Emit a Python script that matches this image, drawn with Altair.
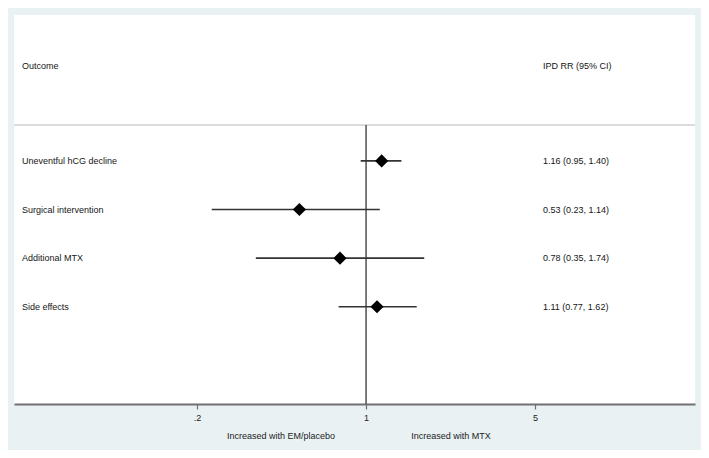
import altair as alt
import pandas as pd

outcomes = ["Uneventful hCG decline", "Surgical intervention", "Additional MTX", "Side effects"]
rr = [1.16, 0.53, 0.78, 1.11]
lo = [0.95, 0.23, 0.35, 0.77]
hi = [1.40, 1.14, 1.74, 1.62]
labels = ["1.16 (0.95, 1.40)", "0.53 (0.23, 1.14)", "0.78 (0.35, 1.74)", "1.11 (0.77, 1.62)"]
tick_values = [0.2, 1, 5]
header_left = "Outcome"
header_right = "IPD RR (95% CI)"
dir_left = "Increased with EM/placebo"
dir_right = "Increased with MTX"

df = pd.DataFrame({
    "outcome": outcomes,
    "row": list(range(1, len(outcomes) + 1)),
    "rr": rr,
    "lo": lo,
    "hi": hi,
    "label": labels,
})

W, H = 681, 389
FONT = "Liberation Sans"
FS = 9

xscale = alt.Scale(type="log", domain=[0.03499, 22.93], nice=False, zero=False)
yscale = alt.Scale(domain=[-2, 6], reverse=True, nice=False, zero=False)

base = alt.Chart(df)

ci = base.mark_rule(color="#333333", strokeWidth=1.6).encode(
    x=alt.X("lo:Q", scale=xscale,
            axis=alt.Axis(values=tick_values, title=None, grid=False,
                          labelExpr="datum.value == 0.2 ? '.2' : format(datum.value, 'd')",
                          domainColor="#707070", domainWidth=2,
                          tickColor="#707070", tickWidth=1.2, tickSize=5,
                          labelFont=FONT, labelFontSize=FS, labelColor="#222222",
                          labelPadding=4)),
    x2="hi:Q",
    y=alt.Y("row:Q", scale=yscale, axis=None),
)

pts = base.mark_point(shape="diamond", filled=True, color="black", size=175, opacity=1).encode(
    x=alt.X("rr:Q", scale=xscale),
    y=alt.Y("row:Q", scale=yscale),
)

null_line = alt.Chart(pd.DataFrame({"v": [1]})).mark_rule(color="#444444", strokeWidth=1.4).encode(
    x=alt.X("v:Q", scale=xscale),
    y=alt.value(110),
    y2=alt.value(H),
)

header_rule = alt.Chart(pd.DataFrame({"v": [1]})).mark_rule(color="#dcdcdc", strokeWidth=2).encode(
    x=alt.value(0), x2=alt.value(W), y=alt.value(110),
)

txt = dict(align="left", baseline="middle", font=FONT, fontSize=FS, color="#151515")

row_text = base.mark_text(**txt).encode(
    x=alt.value(8),
    y=alt.Y("row:Q", scale=yscale),
    text="outcome:N",
)

val_text = base.mark_text(**txt).encode(
    x=alt.value(529),
    y=alt.Y("row:Q", scale=yscale),
    text="label:N",
)

hdr_l = alt.Chart(pd.DataFrame({"t": [header_left]})).mark_text(**txt).encode(
    x=alt.value(8), y=alt.value(51), text="t:N",
)
hdr_r = alt.Chart(pd.DataFrame({"t": [header_right]})).mark_text(**txt).encode(
    x=alt.value(529), y=alt.value(51), text="t:N",
)

dtxt = dict(align="center", baseline="middle", font=FONT, fontSize=FS, color="#222222")
dir_l = alt.Chart(pd.DataFrame({"t": [dir_left]})).mark_text(**dtxt).encode(
    x=alt.value(267), y=alt.value(H + 32), text="t:N",
)
dir_r = alt.Chart(pd.DataFrame({"t": [dir_right]})).mark_text(**dtxt).encode(
    x=alt.value(437), y=alt.value(H + 32), text="t:N",
)

chart = alt.layer(header_rule, null_line, ci, pts, row_text, val_text, hdr_l, hdr_r, dir_l, dir_r).properties(
    width=W, height=H,
    background="#e9f1f3",
    padding={"left": 6, "top": 7, "right": 6, "bottom": 46},
    autosize=alt.AutoSizeParams(type="none"),
).configure_view(fill="white", strokeWidth=0)

chart.save("out.html", embed_options={"renderer": "svg", "actions": False})
